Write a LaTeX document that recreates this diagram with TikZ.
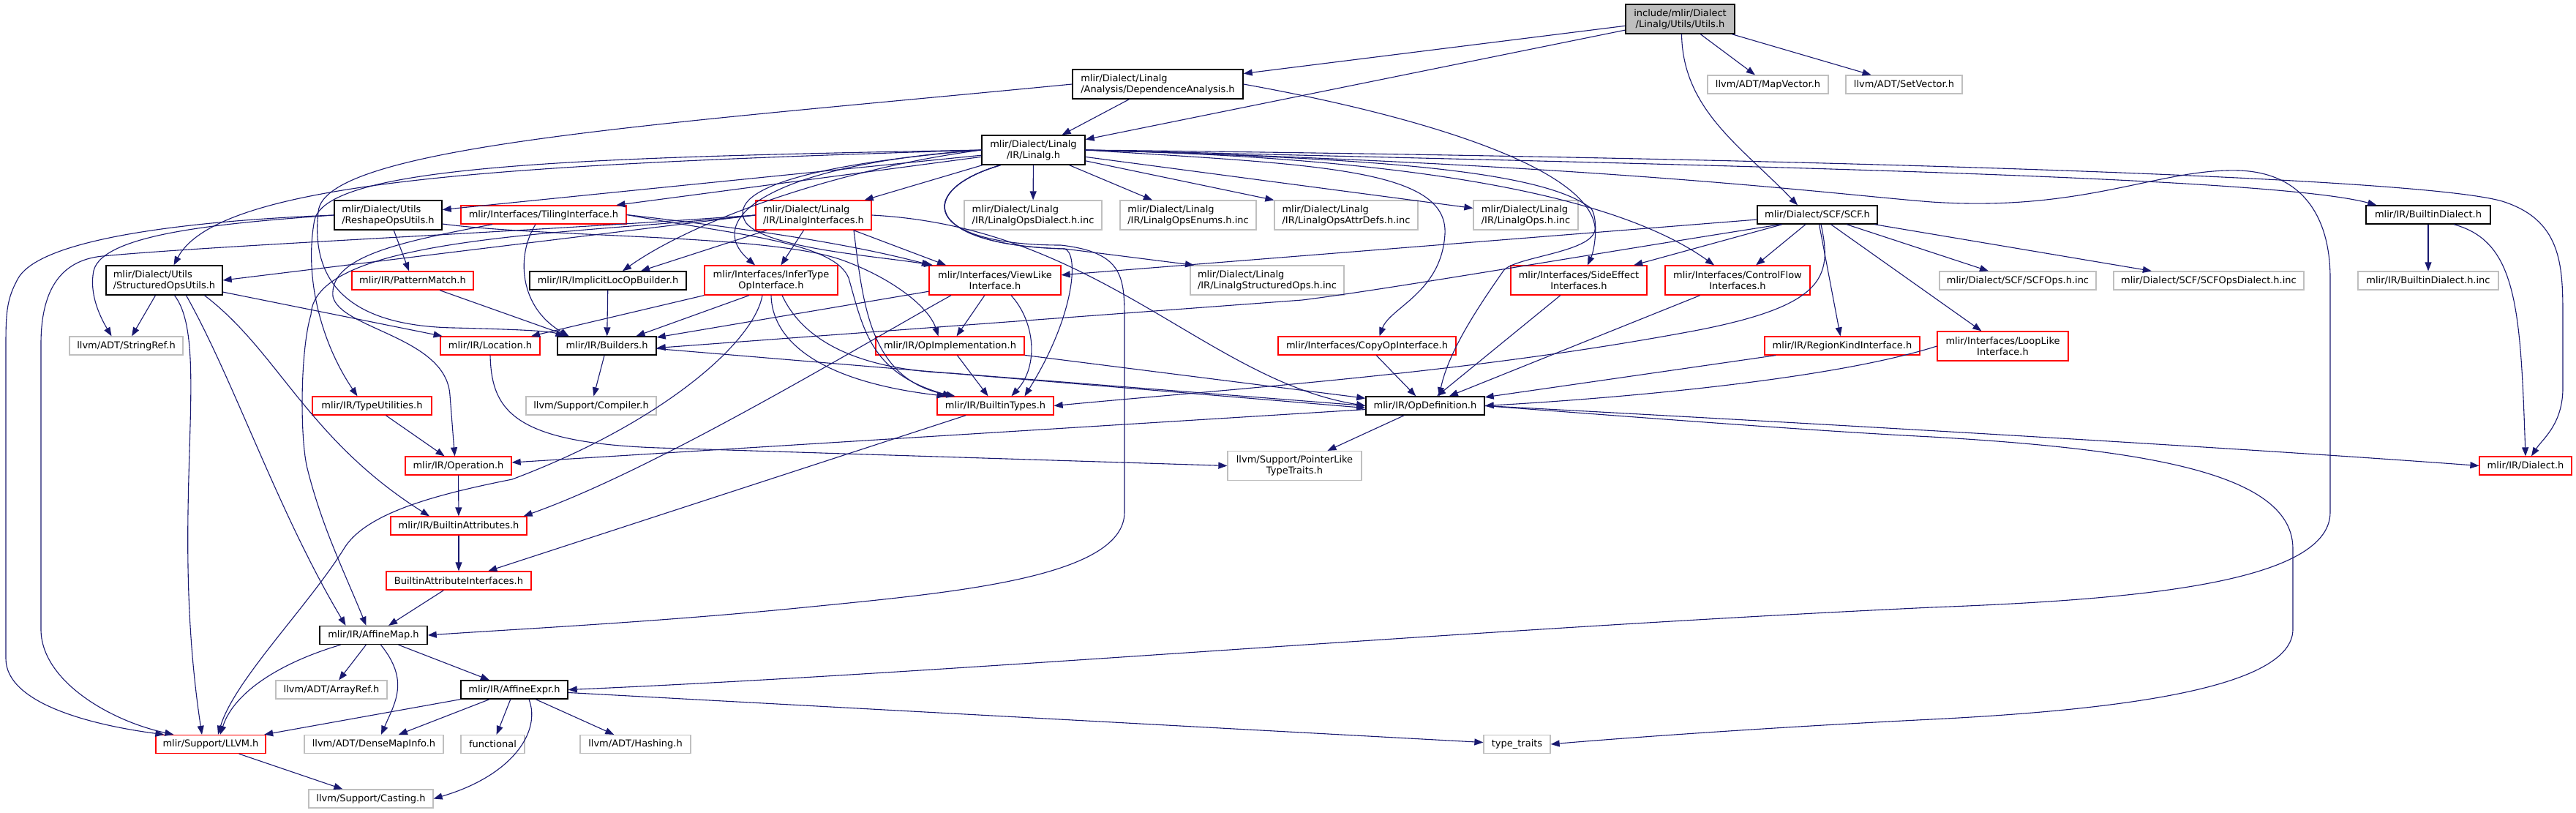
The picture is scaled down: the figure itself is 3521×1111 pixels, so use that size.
\documentclass[tikz,border=0pt]{standalone}
\usepackage{fontspec}
\setsansfont{DejaVu Sans}
\usepackage{xcolor}
\usetikzlibrary{arrows.meta}

\definecolor{edgeblue}{HTML}{191970}
\definecolor{extgrey}{HTML}{BFBFBF}

\begin{document}
\begin{tikzpicture}[
  x=1pt,y=-1pt,
  font=\sffamily\fontsize{13}{15}\selectfont,
  file/.style={draw=black,line width=1.4pt,inner sep=0pt,align=center,fill=white},
  redfile/.style={file,draw=red,line width=1.3pt},
  extfile/.style={file,draw=extgrey,line width=1.3pt},
  rootfile/.style={file,fill=extgrey},
  dep/.style={draw=edgeblue,line width=1.1pt,-{Triangle[length=12pt,width=9pt]}}
]
\path[use as bounding box] (0,0) rectangle (3521,1111);

% top levels
\node[rootfile,minimum width=149pt,minimum height=40pt] (root) at (2296.5,26) {include/mlir/Dialect\\/Linalg/Utils/Utils.h};
\node[file,align=left,minimum width=233pt,minimum height=40pt] (da) at (1582.5,115) {mlir/Dialect/Linalg\\/Analysis/DependenceAnalysis.h};
\node[extfile,minimum width=165pt,minimum height=25pt] (mapvec) at (2416.5,115.5) {llvm/ADT/MapVector.h};
\node[extfile,minimum width=159pt,minimum height=25pt] (setvec) at (2602.5,115.5) {llvm/ADT/SetVector.h};
\node[file,minimum width=141pt,minimum height=40pt] (linalg) at (1412.5,205) {mlir/Dialect/Linalg\\/IR/Linalg.h};

\node[file,align=left,minimum width=147pt,minimum height=40pt] (reshape) at (530.5,294) {mlir/Dialect/Utils\\/ReshapeOpsUtils.h};
\node[redfile,minimum width=226pt,minimum height=25pt] (tiling) at (743,293.5) {mlir/Interfaces/TilingInterface.h};
\node[redfile,align=left,minimum width=158pt,minimum height=40pt] (linint) at (1112,294) {mlir/Dialect/Linalg\\/IR/LinalgInterfaces.h};
\node[extfile,align=left,minimum width=188pt,minimum height=40pt] (opsdia) at (1412,294) {mlir/Dialect/Linalg\\/IR/LinalgOpsDialect.h.inc};
\node[extfile,align=left,minimum width=186pt,minimum height=40pt] (opsenum) at (1624,294) {mlir/Dialect/Linalg\\/IR/LinalgOpsEnums.h.inc};
\node[extfile,align=left,minimum width=196pt,minimum height=40pt] (attrdefs) at (1840,294) {mlir/Dialect/Linalg\\/IR/LinalgOpsAttrDefs.h.inc};
\node[extfile,align=left,minimum width=143pt,minimum height=40pt] (opsinc) at (2085.5,294) {mlir/Dialect/Linalg\\/IR/LinalgOps.h.inc};
\node[file,minimum width=164pt,minimum height=25pt] (scf) at (2484,293.5) {mlir/Dialect/SCF/SCF.h};
\node[file,minimum width=170pt,minimum height=25pt] (bdialect) at (3319,293.5) {mlir/IR/BuiltinDialect.h};

\node[file,align=left,minimum width=159pt,minimum height=40pt] (structured) at (224.5,383) {mlir/Dialect/Utils\\/StructuredOpsUtils.h};
\node[redfile,minimum width=166pt,minimum height=25pt] (pattern) at (564,383.5) {mlir/IR/PatternMatch.h};
\node[file,minimum width=214pt,minimum height=25pt] (implicit) at (831,383.5) {mlir/IR/ImplicitLocOpBuilder.h};
\node[redfile,minimum width=182pt,minimum height=40pt] (infer) at (1054,383) {mlir/Interfaces/InferType\\OpInterface.h};
\node[redfile,minimum width=180pt,minimum height=40pt] (viewlike) at (1360,383) {mlir/Interfaces/ViewLike\\Interface.h};
\node[extfile,align=left,minimum width=210pt,minimum height=40pt] (structinc) at (1732,383) {mlir/Dialect/Linalg\\/IR/LinalgStructuredOps.h.inc};
\node[redfile,minimum width=186pt,minimum height=40pt] (sideeff) at (2158,383) {mlir/Interfaces/SideEffect\\Interfaces.h};
\node[redfile,minimum width=198pt,minimum height=40pt] (ctrlflow) at (2375,383) {mlir/Interfaces/ControlFlow\\Interfaces.h};
\node[extfile,minimum width=214pt,minimum height=25pt] (scfops) at (2758,383.5) {mlir/Dialect/SCF/SCFOps.h.inc};
\node[extfile,minimum width=260pt,minimum height=25pt] (scfdia) at (3019,383.5) {mlir/Dialect/SCF/SCFOpsDialect.h.inc};
\node[extfile,minimum width=192pt,minimum height=25pt] (bdialinc) at (3319,383.5) {mlir/IR/BuiltinDialect.h.inc};

\node[extfile,minimum width=155pt,minimum height=25pt] (stringref) at (172.5,472.5) {llvm/ADT/StringRef.h};
\node[redfile,minimum width=136pt,minimum height=25pt] (location) at (670,472.5) {mlir/IR/Location.h};
\node[file,minimum width=135pt,minimum height=25pt] (builders) at (829.5,472.5) {mlir/IR/Builders.h};
\node[redfile,minimum width=203pt,minimum height=25pt] (opimpl) at (1298.5,472.5) {mlir/IR/OpImplementation.h};
\node[redfile,minimum width=243pt,minimum height=25pt] (copyop) at (1868.5,472.5) {mlir/Interfaces/CopyOpInterface.h};
\node[redfile,minimum width=212pt,minimum height=25pt] (regionkind) at (2518,472.5) {mlir/IR/RegionKindInterface.h};
\node[redfile,minimum width=179pt,minimum height=40pt] (looplike) at (2737.5,473) {mlir/Interfaces/LoopLike\\Interface.h};

\node[redfile,minimum width=163pt,minimum height=25pt] (typeutil) at (508.5,554.5) {mlir/IR/TypeUtilities.h};
\node[extfile,minimum width=178pt,minimum height=25pt] (compiler) at (808,554.5) {llvm/Support/Compiler.h};
\node[redfile,minimum width=159pt,minimum height=25pt] (btypes) at (1360.5,554.5) {mlir/IR/BuiltinTypes.h};
\node[file,minimum width=162pt,minimum height=25pt] (opdef) at (1948,554.5) {mlir/IR/OpDefinition.h};

\node[redfile,minimum width=145pt,minimum height=25pt] (operation) at (626.5,636.5) {mlir/IR/Operation.h};
\node[extfile,minimum width=183pt,minimum height=40pt] (ptrlike) at (1769.5,636.5) {llvm/Support/PointerLike\\TypeTraits.h};
\node[redfile,minimum width=126pt,minimum height=25pt] (dialect) at (3452,636.5) {mlir/IR/Dialect.h};

\node[redfile,minimum width=186pt,minimum height=25pt] (battrs) at (627,718.5) {mlir/IR/BuiltinAttributes.h};
\node[redfile,minimum width=198pt,minimum height=25pt] (battrint) at (627,793.5) {BuiltinAttributeInterfaces.h};
\node[file,minimum width=147pt,minimum height=25pt] (affmap) at (510.5,868) {mlir/IR/AffineMap.h};
\node[extfile,minimum width=152pt,minimum height=25pt] (arrayref) at (453,942.5) {llvm/ADT/ArrayRef.h};
\node[file,minimum width=146pt,minimum height=25pt] (affexpr) at (703,942.5) {mlir/IR/AffineExpr.h};
\node[redfile,minimum width=150pt,minimum height=25pt] (llvmh) at (288,1017) {mlir/Support/LLVM.h};
\node[extfile,minimum width=190pt,minimum height=25pt] (densemap) at (511,1017) {llvm/ADT/DenseMapInfo.h};
\node[extfile,minimum width=87pt,minimum height=25pt] (functional) at (673.5,1017) {functional};
\node[extfile,minimum width=151pt,minimum height=25pt] (hashing) at (868.5,1017) {llvm/ADT/Hashing.h};
\node[extfile,minimum width=91pt,minimum height=25pt] (typetraits) at (2073.5,1017) {type\_traits};
\node[extfile,minimum width=170pt,minimum height=25pt] (casting) at (507,1091.5) {llvm/Support/Casting.h};

% Utils.h
\draw[dep] (root) -- (da);
\draw[dep] (root) -- (linalg);
\draw[dep] (root) -- (mapvec);
\draw[dep] (root) -- (setvec);
\draw[dep] ([xshift=2pt]root.south) .. controls (2300,150) and (2380,200) .. ([xshift=-27pt]scf.north);

% DependenceAnalysis.h
\draw[dep] (da) -- (linalg);
\draw[dep] (da.west) .. controls (900,170) and (440,200) .. (435,290) .. controls (425,380) and (470,445) .. (620,448) .. controls (700,450) and (750,452) .. ([xshift=-58pt]builders.north);
\draw[dep] (da.east) .. controls (1950,160) and (2170,230) .. (2180,310) .. controls (2185,345) and (2070,350) .. (2055,370) .. controls (2020,420) and (1980,480) .. ([xshift=19pt]opdef.north);

% Linalg.h
\draw[dep] (linalg) -- (reshape);
\draw[dep] (linalg) -- (tiling);
\draw[dep] (linalg) -- (linint);
\draw[dep] (linalg) -- (opsdia);
\draw[dep] (linalg) -- (opsenum);
\draw[dep] (linalg) -- (attrdefs);
\draw[dep] (linalg) -- (opsinc);
\draw[dep] (linalg.west) .. controls (700,225) and (300,245) .. ([xshift=13pt]structured.north);
\draw[dep] (linalg.west) .. controls (1150,230) and (950,300) .. ([xshift=20pt]implicit.north);
\draw[dep] (linalg.west) .. controls (1050,225) and (960,300) .. ([xshift=-22pt]infer.north);
\draw[dep] (linalg.west) .. controls (1100,225) and (990,260) .. (1020,305) .. controls (1050,340) and (1200,350) .. ([xshift=-85pt]viewlike.north);
\draw[dep] (linalg.west) .. controls (800,215) and (450,225) .. (430,300) .. controls (415,380) and (440,470) .. ([xshift=-20pt]typeutil.north);
\draw[dep] ([xshift=-45pt]linalg.south) .. controls (1250,260) and (1260,335) .. (1450,335) .. controls (1537,345) and (1537,380) .. (1537,440) -- (1537,700) .. controls (1537,790) and (1300,810) .. (1100,830) .. controls (900,850) and (700,860) .. (affmap.east);
\draw[dep] ([xshift=-45pt]linalg.south) .. controls (1250,260) and (1260,335) .. (1455,340) .. controls (1475,345) and (1470,430) .. ([xshift=40pt]btypes.north);
\draw[dep] ([xshift=-45pt]linalg.south) .. controls (1250,260) and (1260,335) .. (1455,340) -- ([xshift=-100pt]structinc.north);
\draw[dep] (linalg.east) .. controls (1800,215) and (2100,225) .. (2175,285) .. controls (2185,300) and (2180,340) .. ([xshift=12pt]sideeff.north);
\draw[dep] (linalg.east) .. controls (1900,215) and (2200,260) .. ([xshift=-32pt]ctrlflow.north);
\draw[dep] (linalg.east) .. controls (1800,225) and (1980,230) .. (1975,320) .. controls (1970,400) and (1900,420) .. ([xshift=17pt]copyop.north);
\draw[dep] (linalg.east) .. controls (2300,225) and (3100,240) .. ([xshift=15pt]bdialect.north west);
\draw[dep] (linalg.east) .. controls (2400,215) and (3300,240) .. (3420,275) .. controls (3500,300) and (3503,360) .. (3503,430) -- (3503,530) .. controls (3503,580) and (3475,600) .. ([xshift=8pt]dialect.north);
\draw[dep] (linalg.east) .. controls (2200,225) and (2500,265) .. (2640,276) .. controls (2850,290) and (2950,230) .. (3060,233) .. controls (3150,236) and (3185,300) .. (3185,380) -- (3185,700) .. controls (3185,800) and (2900,820) .. (2640,830) .. controls (2000,860) and (1300,920) .. (affexpr.east);

% LinalgInterfaces.h
\draw[dep] (linint.west) -- (structured.east);
\draw[dep] (linint) -- ([xshift=45pt]implicit.north);
\draw[dep] (linint) -- (infer);
\draw[dep] (linint) -- ([xshift=-67pt]viewlike.north);
\draw[dep] ([xshift=55pt]linint.south) .. controls (1180,420) and (1190,520) .. ([xshift=-55pt]btypes.north);
\draw[dep] (linint.east) .. controls (1500,310) and (1650,520) .. (opdef.west);
\draw[dep] (linint.west) .. controls (700,318) and (300,335) .. (140,350) .. controls (80,356) and (56,400) .. (56,470) -- (56,860) .. controls (56,930) and (150,985) .. ([xshift=25pt]llvmh.north west);
\draw[dep] (linint.west) .. controls (800,320) and (430,320) .. (425,430) .. controls (410,480) and (410,600) .. (420,640) .. controls (440,720) and (470,780) .. ([xshift=-10pt]affmap.north);

% ReshapeOpsUtils.h
\draw[dep] (reshape) -- (pattern);
\draw[dep] (reshape.west) .. controls (300,300) and (60,320) .. (25,380) .. controls (8,410) and (8,430) .. (8,480) -- (8,900) .. controls (8,960) and (120,990) .. ([xshift=12pt]llvmh.north west);
\draw[dep] (reshape.west) .. controls (300,305) and (140,320) .. (128,370) .. controls (122,400) and (135,430) .. ([xshift=-20pt]stringref.north);
\draw[dep] ([yshift=-12pt]reshape.east) .. controls (750,325) and (1050,320) .. (1150,355) .. controls (1220,380) and (1270,420) .. ([xshift=-16pt]opimpl.north);

% TilingInterface.h
\draw[dep] ([xshift=-11pt]tiling.south) .. controls (705,350) and (710,420) .. ([xshift=-52pt]builders.north);
\draw[dep] ([xshift=-70pt]tiling.south) .. controls (550,330) and (450,350) .. (455,405) .. controls (465,450) and (610,460) .. (615,540) -- ([xshift=-5pt]operation.north);
\draw[dep] (tiling.east) .. controls (1000,310) and (1150,330) .. ([xshift=-88pt]viewlike.north);
\draw[dep] (tiling.east) .. controls (1000,320) and (1140,330) .. (1160,380) .. controls (1180,450) and (1190,510) .. ([xshift=-60pt]btypes.north);

% StructuredOpsUtils.h
\draw[dep] (structured) -- (stringref);
\draw[dep] (structured) -- (location);
\draw[dep] ([xshift=14pt]structured.south) .. controls (290,470) and (230,700) .. ([xshift=-12pt]llvmh.north);
\draw[dep] ([xshift=30pt]structured.south) .. controls (320,520) and (380,700) .. ([xshift=-38pt]affmap.north);
\draw[dep] ([xshift=55pt]structured.south) .. controls (380,480) and (420,600) .. ([xshift=-40pt]battrs.north);

% interfaces
\draw[dep] (pattern) -- ([xshift=-52pt]builders.north);
\draw[dep] (implicit) -- (builders);
\draw[dep] ([xshift=-30pt]infer.south) -- ([xshift=40pt]builders.north);
\draw[dep] (infer.south west) -- ([xshift=56pt]location.north);
\draw[dep] (infer.south) .. controls (1055,460) and (1110,520) .. ([xshift=-68pt]btypes.north);
\draw[dep] ([xshift=15pt]infer.south) .. controls (1100,470) and (1180,505) .. (1300,510) -- (opdef.west);
\draw[dep] ([xshift=-12pt]infer.south) .. controls (1030,470) and (900,580) .. (700,655) .. controls (600,675) and (500,700) .. (470,750) .. controls (420,830) and (320,930) .. ([xshift=10pt]llvmh.north);
\draw[dep] (viewlike) -- (builders);
\draw[dep] (viewlike) -- (opimpl);
\draw[dep] ([xshift=22pt]viewlike.south) .. controls (1415,440) and (1420,500) .. ([xshift=22pt]btypes.north);
\draw[dep] ([xshift=-60pt]viewlike.south) .. controls (1180,470) and (900,640) .. ([xshift=-5pt]battrs.north east);
\draw[dep] (sideeff) -- (opdef);
\draw[dep] (ctrlflow) -- (opdef);
\draw[dep] (copyop) -- (opdef);
\draw[dep] (regionkind) -- (opdef);
\draw[dep] (looplike.west) .. controls (2500,520) and (2200,545) .. (opdef.east);

% SCF.h
\draw[dep] (scf) -- (looplike);
\draw[dep] ([xshift=-50pt]scf.south) .. controls (2200,343) and (1900,395) .. (1780,410) -- ([yshift=-3pt]builders.east);
\draw[dep] ([xshift=5pt]scf.south) .. controls (2505,380) and (2495,420) .. (2300,455) .. controls (2000,510) and (1700,530) .. (btypes.east);
\draw[dep] (scf) -- (regionkind);
\draw[dep] (scf) -- (ctrlflow);
\draw[dep] (scf) -- (sideeff);
\draw[dep] (scf) -- (viewlike);
\draw[dep] (scf) -- (scfops);
\draw[dep] (scf) -- (scfdia);

% BuiltinDialect.h
\draw[dep] (bdialect) -- (bdialinc);
\draw[dep] ([xshift=35pt]bdialect.south) .. controls (3440,330) and (3445,420) .. (dialect.north);

% IR core
\draw[dep] (location.south) .. controls (672,560) and (700,605) .. (900,612) -- (ptrlike.west);
\draw[dep] (builders) -- (compiler);
\draw[dep] ([yshift=-4pt]builders.east) -- ([yshift=-3pt]opdef.west);
\draw[dep] (opimpl) -- (btypes);
\draw[dep] (opimpl) -- (opdef);
\draw[dep] (typeutil) -- (operation);
\draw[dep] (btypes) -- (battrint);
\draw[dep] (opdef) -- (operation);
\draw[dep] (opdef) -- (ptrlike);
\draw[dep] (opdef.east) .. controls (2600,585) and (3100,615) .. (dialect.west);
\draw[dep] (opdef.east) .. controls (2300,575) and (2500,590) .. (2640,597) .. controls (2950,615) and (3134,650) .. (3134,750) -- (3134,860) .. controls (3134,940) and (2900,970) .. (2640,983) .. controls (2400,995) and (2200,1010) .. (typetraits.east);
\draw[dep] (operation) -- (battrs);
\draw[dep] (battrs) -- (battrint);
\draw[dep] (battrint) -- (affmap);

% AffineMap.h / AffineExpr.h
\draw[dep] ([xshift=-45pt]affmap.south) .. controls (385,905) and (320,945) .. ([xshift=13pt]llvmh.north);
\draw[dep] (affmap) -- (arrayref);
\draw[dep] ([xshift=10pt]affmap.south) .. controls (560,930) and (540,960) .. ([xshift=10pt]densemap.north);
\draw[dep] (affmap) -- (affexpr);
\draw[dep] (affexpr) -- (llvmh);
\draw[dep] (affexpr) -- (densemap);
\draw[dep] (affexpr) -- (functional);
\draw[dep] (affexpr) -- (hashing);
\draw[dep] ([xshift=20pt]affexpr.south) .. controls (740,1000) and (700,1060) .. (casting.east);
\draw[dep] (affexpr) -- (typetraits);
\draw[dep] (llvmh) -- (casting);
\end{tikzpicture}
\end{document}
